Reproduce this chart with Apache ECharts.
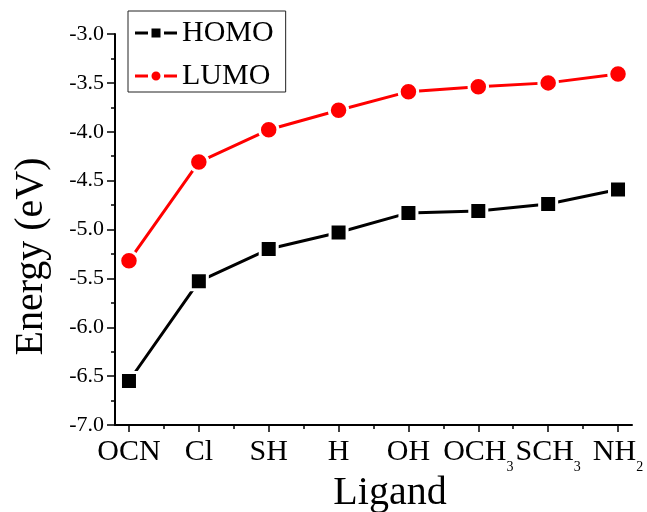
<!DOCTYPE html>
<html>
<head>
<meta charset="utf-8">
<script src="https://cdn.jsdelivr.net/npm/echarts@6/dist/echarts.min.js"></script>
<style>html,body{margin:0;padding:0;background:#fff;}#c{width:647px;height:512px;}</style>
</head>
<body>
<div id="c"></div>
<script>
var categories = ['OCN', 'Cl', 'SH', 'H', 'OH', 'OCH3', 'SCH3', 'NH2'];
var homo = [-6.55, -5.53, -5.20, -5.03, -4.83, -4.81, -4.74, -4.59];
var lumo = [-5.32, -4.31, -3.98, -3.78, -3.59, -3.54, -3.50, -3.41];
var yTicks = [-7.0, -6.5, -6.0, -5.5, -5.0, -4.5, -4.0, -3.5, -3.0];

var FONT = 'Liberation Serif';
var catIdx = categories.map(function (c, i) { return i; });
var halfIdx = categories.slice(1).map(function (c, i) { return i + 0.5; });

function richName(name) {
  var m = name.match(/^([A-Za-z]+)(\d*)$/);
  if (m && m[2]) return '{a|' + m[1] + '}{s|' + m[2] + '}';
  return '{a|' + name + '}';
}

var squareIcon = 'path://M0 3H13V6H0Z M16.5 0H25.5V9H16.5Z M29 3H42V6H29Z';
var circleIcon = 'path://M0 3H13V6H0Z M16.5 4.5A4.5 4.5 0 1 0 25.5 4.5A4.5 4.5 0 1 0 16.5 4.5Z M29 3H42V6H29Z';

var chart = echarts.init(document.getElementById('c'), null, { renderer: 'canvas' });
chart.setOption({
  animation: false,
  backgroundColor: '#fff',
  grid: { left: 115, right: 15, top: 34, bottom: 87, containLabel: false, outerBoundsMode: 'none' },
  legend: {
    orient: 'vertical',
    left: 128, top: 11,
    padding: [7, 12, 1, 7],
    itemGap: 13,
    itemWidth: 42, itemHeight: 9,
    itemTextGap: 5,
    borderColor: '#222', borderWidth: 1,
    selectedMode: false,
    itemStyle: { borderWidth: 0, borderColor: 'transparent' },
    textStyle: { fontFamily: FONT, fontSize: 30, color: '#000' },
    data: [
      { name: 'HOMO', icon: squareIcon, itemStyle: { color: '#000', borderWidth: 0 } },
      { name: 'LUMO', icon: circleIcon, itemStyle: { color: '#ff0000', borderWidth: 0 } }
    ]
  },
  xAxis: [{
    type: 'value', min: -0.2, max: 7.2, position: 'bottom',
    name: 'Ligand', nameLocation: 'middle', nameGap: 48, nameMoveOverlap: false,
    nameTextStyle: { fontFamily: FONT, fontSize: 40, color: '#000', padding: [0, 0, 0, 33], verticalAlign: 'top' },
    splitLine: { show: false },
    axisLine: { onZero: false, lineStyle: { color: '#000', width: 2 } },
    axisTick: { customValues: catIdx, length: 7, lineStyle: { color: '#000', width: 1.5 } },
    axisLabel: {
      customValues: catIdx, margin: 12, color: '#000',
      formatter: function (v) { return richName(categories[Math.round(v)]); },
      rich: {
        a: { fontFamily: FONT, fontSize: 30, lineHeight: 30, color: '#000', verticalAlign: 'top' },
        s: { fontFamily: FONT, fontSize: 14, lineHeight: 14, color: '#000', verticalAlign: 'top', padding: [23, 0, 0, 0] }
      }
    }
  }, {
    type: 'value', min: -0.2, max: 7.2, position: 'bottom',
    splitLine: { show: false },
    axisLine: { show: false, onZero: false },
    axisTick: { customValues: halfIdx, length: 4, lineStyle: { color: '#000', width: 1.5 } },
    axisLabel: { show: false }
  }],
  yAxis: {
    type: 'value', min: -7, max: -3, interval: 0.5,
    name: 'Energy (eV)', nameLocation: 'middle', nameGap: 64, nameMoveOverlap: false,
    nameTextStyle: { fontFamily: FONT, fontSize: 40, color: '#000', padding: [0, 54, 0, 0] },
    splitLine: { show: false },
    axisLine: { show: true, onZero: false, lineStyle: { color: '#000', width: 2 } },
    axisTick: { show: true, length: 8, lineStyle: { color: '#000', width: 1.5 } },
    minorTick: { show: true, splitNumber: 2, length: 4, lineStyle: { color: '#000', width: 1.5 } },
    axisLabel: {
      margin: 11, color: '#000', fontFamily: FONT, fontSize: 22,
      customValues: yTicks,
      formatter: function (v) { return '{t|' + v.toFixed(1) + '}'; },
      rich: { t: { fontFamily: FONT, fontSize: 22, color: '#000' } }
    }
  },
  series: [{
    name: 'HOMO', type: 'line', xAxisIndex: 0,
    data: homo.map(function (v, i) { return [i, v]; }),
    symbol: 'rect', symbolSize: 17,
    itemStyle: { color: '#000', borderColor: '#fff', borderWidth: 3 },
    lineStyle: { color: '#000', width: 3 },
    emphasis: { disabled: true }
  }, {
    name: 'LUMO', type: 'line', xAxisIndex: 0,
    data: lumo.map(function (v, i) { return [i, v]; }),
    symbol: 'circle', symbolSize: 18.5,
    itemStyle: { color: '#ff0000', borderColor: '#fff', borderWidth: 3 },
    lineStyle: { color: '#ff0000', width: 3 },
    emphasis: { disabled: true }
  }]
});
</script>
</body>
</html>
